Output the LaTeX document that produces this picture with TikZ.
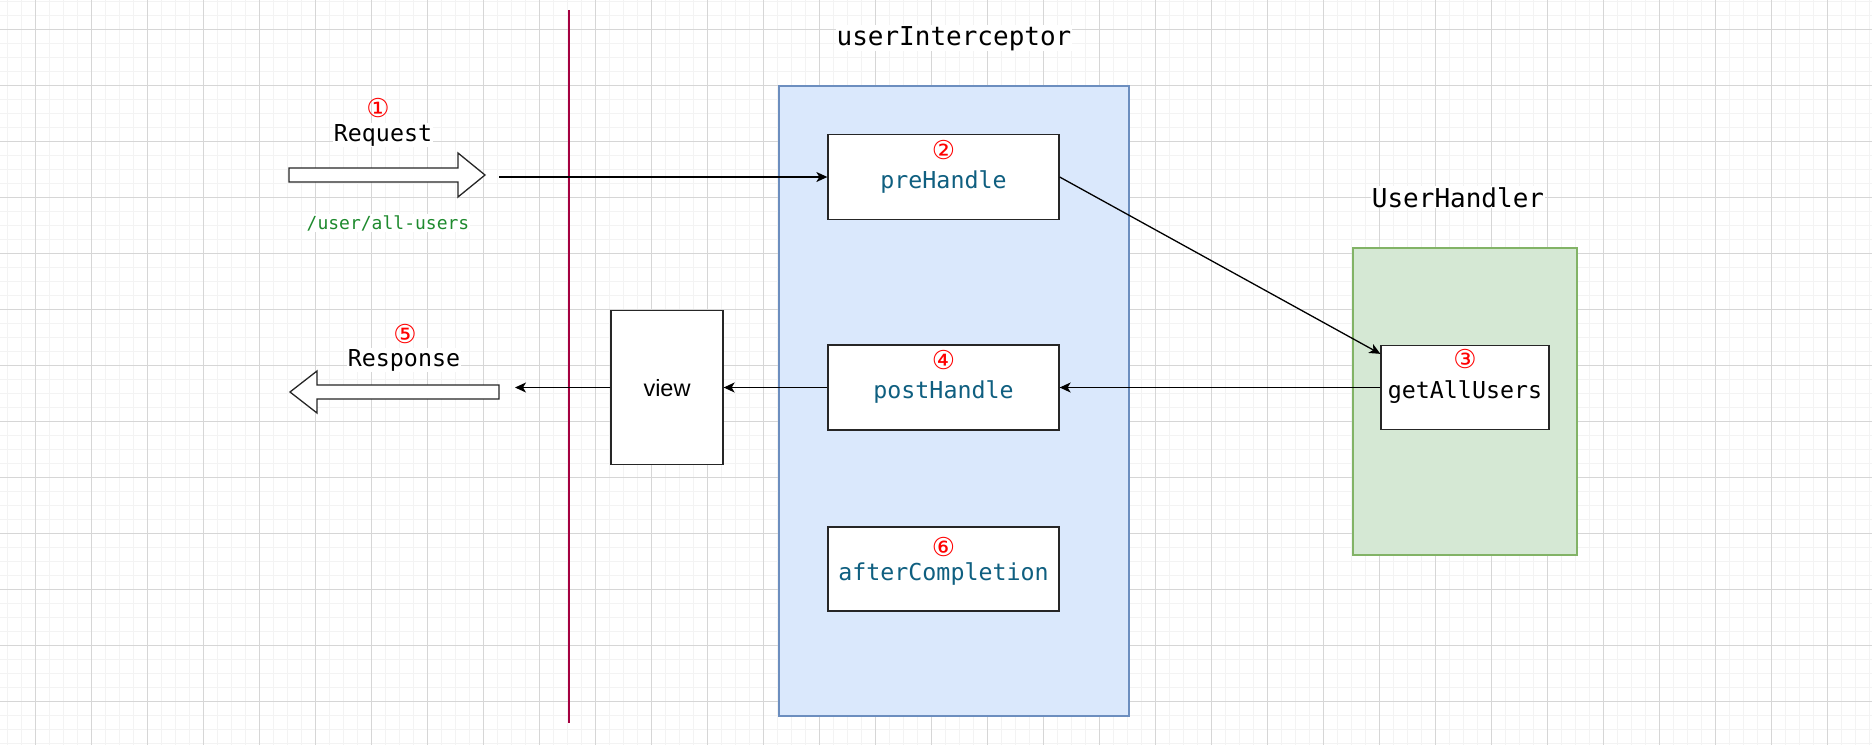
\documentclass[tikz,border=0pt]{standalone}
\usepackage{fontspec}
\setmainfont{Liberation Sans}
\newfontfamily\monof{DejaVu Sans Mono}
\newfontfamily\symf{DejaVu Sans}
\usetikzlibrary{arrows.meta}
\definecolor{gridminor}{HTML}{F3F3F3}
\definecolor{gridmajor}{HTML}{D6D6D6}
\definecolor{bluefill}{HTML}{DAE8FC}
\definecolor{bluedraw}{HTML}{6C8EBF}
\definecolor{greenfill}{HTML}{D5E8D4}
\definecolor{greendraw}{HTML}{82B366}
\definecolor{redline}{HTML}{A50040}
\definecolor{tealtext}{HTML}{0F5F80}
\definecolor{pathgreen}{HTML}{1E8A2E}
\begin{document}
\begin{tikzpicture}[x=1pt,y=-1pt,
  minorgrid/.style={gridminor,line width=1pt},
  majorgrid/.style={gridmajor,line width=1pt},
  box/.style={draw=black!85,line width=1.3pt,fill=white,inner sep=0pt},
  container/.style={line width=1.3pt,inner sep=0pt},
  mtext/.style={anchor=base,inner sep=0pt,font=\monof\fontsize{23.3}{28}\selectfont},
  ttext/.style={mtext,text=tealtext},
  label/.style={anchor=base,inner sep=1pt,fill=white,font=\monof\fontsize{26}{31}\selectfont},
  num/.style={inner sep=0pt,text=red,font=\symf\fontsize{26}{30}\selectfont},
  conn/.style={line width=1.3pt,-{Stealth[length=11pt,width=10pt,inset=3pt]}},
  blockarrow/.style={draw=black!85,line width=1.3pt,fill=white,line join=miter}
]
\useasboundingbox (0,0) rectangle (1872,745);
\fill[white] (0,0) rectangle (1872,745);
\foreach \x in {7,21,...,1872} \draw[minorgrid] (\x,0) -- (\x,745);
\foreach \y in {1,15,...,745} \draw[minorgrid] (0,\y) -- (1872,\y);
\foreach \x in {35,91,...,1872} \draw[majorgrid] (\x,0) -- (\x,745);
\foreach \y in {29,85,...,745} \draw[majorgrid] (0,\y) -- (1872,\y);

% red separator
\draw[redline,line width=2pt] (569,10) -- (569,723);

% containers
\node[container,draw=bluedraw,fill=bluefill,minimum width=350pt,minimum height=630pt] (interceptor) at (954,401) {};
\node[container,draw=greendraw,fill=greenfill,minimum width=224pt,minimum height=307pt] (handler) at (1465,401.5) {};

% labels
\node[label] (intlabel) at (954,45) {userInterceptor};
\node[label] (handlabel) at (1458,207) {UserHandler};

% boxes
\node[box,minimum width=231pt,minimum height=85pt] (pre) at (943.5,177) {};
\node[box,minimum width=231pt,minimum height=85pt] (post) at (943.5,387.5) {};
\node[box,minimum width=231pt,minimum height=84pt] (after) at (943.5,569) {};
\node[box,minimum width=112pt,minimum height=154pt] (view) at (667,387.5) {};
\node[box,minimum width=168pt,minimum height=84pt] (gau) at (1465,387.5) {};

% box texts
\node[num] (n2) at (943.5,150) {②};
\node[ttext] (pretext) at (943.5,188) {preHandle};
\node[num] (n4) at (943.5,360) {④};
\node[ttext] (posttext) at (943.5,398) {postHandle};
\node[num] (n6) at (943.5,547) {⑥};
\node[ttext] (aftertext) at (943.5,580) {afterCompletion};
\node[num] (n3) at (1465,359) {③};
\node[mtext] (gautext) at (1465,398) {getAllUsers};
\node[anchor=base,inner sep=0pt,font=\fontsize{23.5}{28}\selectfont] (viewtext) at (667,396) {view};

% request block arrow
\draw[blockarrow] (289,168) -- (458,168) -- (458,153) -- (485,175) -- (458,197) -- (458,182) -- (289,182) -- cycle;
\node[num] (n1) at (378,108) {①};
\node[label,font=\monof\fontsize{23.3}{28}\selectfont] (reqlabel) at (383,141) {Request};
\node[anchor=base,inner sep=1pt,fill=white,text=pathgreen,font=\monof\fontsize{18}{22}\selectfont] (path) at (388,229) {/user/all-users};
\coordinate (reqstart) at (499,177);

% response block arrow
\draw[blockarrow] (499,385) -- (317,385) -- (317,371) -- (290,392) -- (317,413) -- (317,399) -- (499,399) -- cycle;
\node[num] (n5) at (405,334) {⑤};
\node[label,font=\monof\fontsize{23.3}{28}\selectfont] (resplabel) at (404,366) {Response};
\coordinate (respend) at (515,387.5);

% connectors
\draw[conn] (reqstart) -- (pre.west);
\draw[conn] (pre.east) -- ([yshift=-9pt]gau.north west);
\draw[conn] (gau.west) -- (post.east);
\draw[conn] (post.west) -- (view.east);
\draw[conn] (view.west) -- (respend);
\end{tikzpicture}
\end{document}
